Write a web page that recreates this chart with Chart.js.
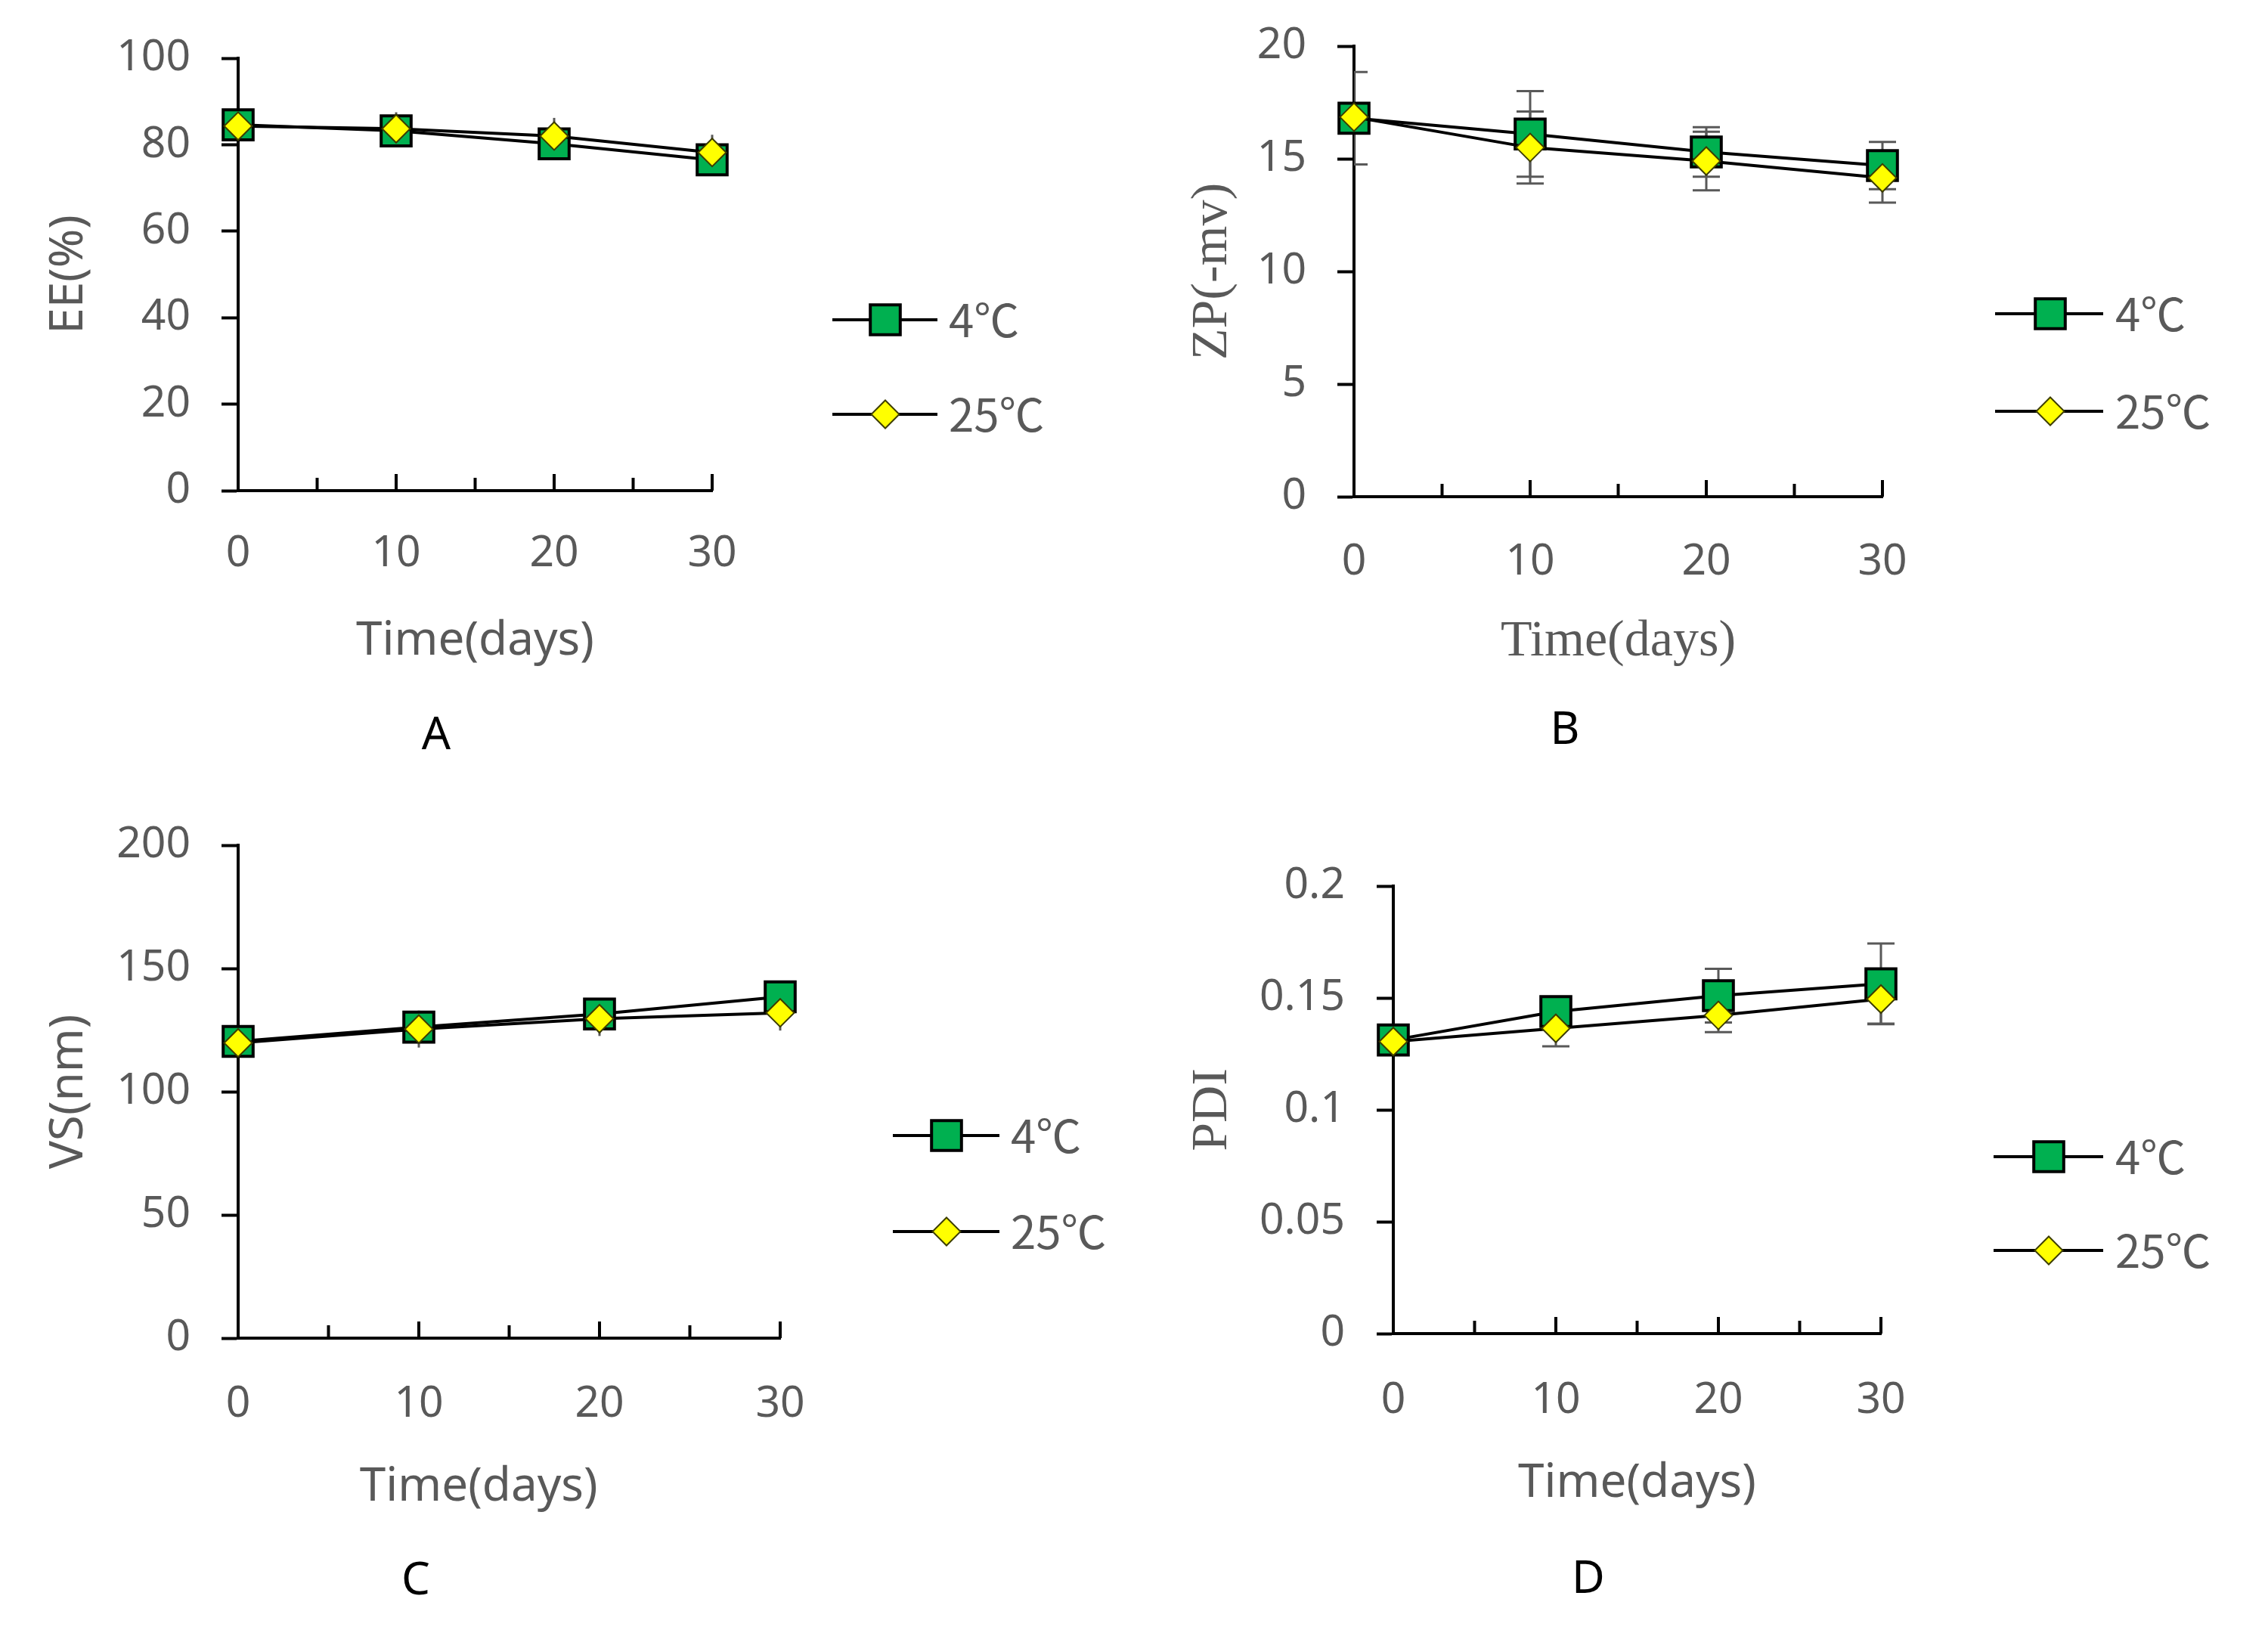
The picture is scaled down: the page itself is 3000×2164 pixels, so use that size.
<!DOCTYPE html>
<html>
<head>
<meta charset="utf-8">
<script src="https://cdn.jsdelivr.net/npm/chart.js@4.4.1/dist/chart.umd.min.js"></script>
<style>
html, body { margin: 0; padding: 0; background: #fff; }
body { width: 3000px; height: 2164px; position: relative; overflow: hidden; }
canvas { position: absolute; }
.tag { position: absolute; font: 60px "Noto Sans", sans-serif; color: #000; transform: translate(-50%, -50%); line-height: 1; }
</style>
</head>
<body>
<canvas id="chartA" width="1500" height="1080" style="left:0;top:0"></canvas>
<canvas id="chartB" width="1500" height="1100" style="left:1500px;top:-20px"></canvas>
<canvas id="chartC" width="1500" height="1124" style="left:0;top:1040px"></canvas>
<canvas id="chartD" width="1500" height="1084" style="left:1500px;top:1080px"></canvas>
<div class="tag" style="left:577px;top:968px">A</div>
<div class="tag" style="left:2070px;top:961px">B</div>
<div class="tag" style="left:550px;top:2086px">C</div>
<div class="tag" style="left:2101px;top:2084px">D</div>
<script>
// --- DATOS ---
const days = [0, 10, 20, 30];
const seriesNames = ['4℃', '25℃'];
const xLabelDays = [0, 10, 20, 30];

// A: eficiencia de encapsulación
const eeTicks = [0, 20, 40, 60, 80, 100];
const ee4 = [84.6, 83.2, 80.2, 76.5];
const ee25 = [84.3, 83.7, 82.0, 78.2];
const ee4Err = [1.5, 2.0, 2.0, 2.0];
const ee25Err = [1.5, 3.8, 4.2, 4.1];

// B: potencial zeta
const zpTicks = [0, 5, 10, 15, 20];
const zp4 = [16.8, 16.1, 15.3, 14.7];
const zp25 = [16.85, 15.5, 14.9, 14.15];
const zp4Err = [2.05, 1.9, 1.1, 1.05];
const zp25Err = [0.6, 1.6, 1.3, 1.1];

// C: tamaño de vesícula
const vsTicks = [0, 50, 100, 150, 200];
const vs4 = [120.4, 126.2, 131.5, 138.5];
const vs25 = [119.8, 125.4, 129.6, 132.0];
const vs4Err = [5, 5, 5, 5];
const vs25Err = [5, 7.5, 7.0, 7.2];

// D: PDI
const pdiTicks = [0, 0.05, 0.1, 0.15, 0.2];
const pdi4 = [0.1312, 0.1439, 0.151, 0.1563];
const pdi25 = [0.1305, 0.1364, 0.1422, 0.1495];
const pdi4Err = [0.004, 0.005, 0.012, 0.018];
const pdi25Err = [0.004, 0.008, 0.0075, 0.011];

const GREY = '#595959';
const SANS = "'Noto Sans', 'Noto Sans CJK SC', sans-serif";
const SERIF = "'Liberation Serif', 'DejaVu Serif', serif";
const LEGEND_FONT = "60px 'Noto Sans CJK SC', 'Noto Sans', sans-serif";

// --- PLUGINS ---
// barras de error (detrás de los marcadores)
const errorBarsPlugin = {
    id: 'errorBars',
    beforeDatasetsDraw(chart, args, opts) {
        const ctx = chart.ctx;
        const ca = chart.chartArea;
        const y = chart.scales.y;
        ctx.save();
        ctx.beginPath();
        ctx.rect(ca.left, 0, chart.width - ca.left, chart.height);
        ctx.clip();
        ctx.strokeStyle = GREY;
        ctx.lineWidth = 3;
        chart.data.datasets.forEach((ds, i) => {
            const meta = chart.getDatasetMeta(i);
            const errs = opts.errs[i];
            meta.data.forEach((pt, j) => {
                const v = ds.data[j].y;
                const yTop = y.getPixelForValue(v + errs[j]);
                const yBot = y.getPixelForValue(v - errs[j]);
                ctx.beginPath();
                ctx.moveTo(pt.x, yTop);
                ctx.lineTo(pt.x, yBot);
                if (opts.cap > 0) {
                    ctx.moveTo(pt.x - opts.cap, yTop);
                    ctx.lineTo(pt.x + opts.cap, yTop);
                    ctx.moveTo(pt.x - opts.cap, yBot);
                    ctx.lineTo(pt.x + opts.cap, yBot);
                }
                ctx.stroke();
            });
        });
        ctx.restore();
    }
};

// marcas del eje X hacia dentro
const innerTicksPlugin = {
    id: 'innerTicks',
    afterDraw(chart) {
        const ctx = chart.ctx;
        const x = chart.scales.x;
        const base = chart.chartArea.bottom;
        ctx.save();
        ctx.strokeStyle = '#000';
        ctx.lineWidth = 4;
        x.ticks.forEach(t => {
            if (t.value <= 0) return;
            const px = x.getPixelForValue(t.value);
            const len = t.value % 10 === 0 ? 22 : 17;
            ctx.beginPath();
            ctx.moveTo(px, base);
            ctx.lineTo(px, base - len);
            ctx.stroke();
        });
        ctx.restore();
    }
};

// leyenda lateral con línea + marcador
const sideLegendPlugin = {
    id: 'sideLegend',
    afterDraw(chart, args, o) {
        const ctx = chart.ctx;
        ctx.save();
        chart.data.datasets.forEach((ds, i) => {
            const y = o.ys[i];
            ctx.strokeStyle = '#000';
            ctx.lineWidth = 4;
            ctx.beginPath();
            ctx.moveTo(o.x0, y);
            ctx.lineTo(o.x1, y);
            ctx.stroke();
            ctx.fillStyle = ds.pointBackgroundColor;
            ctx.strokeStyle = ds.pointBorderColor;
            ctx.lineWidth = ds.pointBorderWidth;
            ctx.beginPath();
            if (ds.pointStyle === 'rect') {
                const h = ds.pointRadius * Math.SQRT1_2;
                ctx.rect(o.mx - h, y - h, 2 * h, 2 * h);
            } else {
                const r = ds.pointRadius;
                ctx.moveTo(o.mx, y - r);
                ctx.lineTo(o.mx + r, y);
                ctx.lineTo(o.mx, y + r);
                ctx.lineTo(o.mx - r, y);
                ctx.closePath();
            }
            ctx.fill();
            ctx.stroke();
            ctx.fillStyle = GREY;
            ctx.font = LEGEND_FONT;
            ctx.textBaseline = 'middle';
            ctx.textAlign = 'left';
            ctx.fillText(ds.label, o.tx, y);
        });
        ctx.restore();
    }
};

function toPoints(vals) {
    return days.map((d, i) => ({ x: d, y: vals[i] }));
}

function fmt(v) {
    return String(Number(v.toFixed(2)));
}

function makePanel(id, p) {
    const ctx = document.getElementById(id).getContext('2d');
    const W = ctx.canvas.width, H = ctx.canvas.height;
    const yStep = p.yTicks[1] - p.yTicks[0];
    return new Chart(ctx, {
        type: 'line',
        data: {
            datasets: [
                {
                    label: seriesNames[0],
                    data: toPoints(p.s4),
                    borderColor: '#000',
                    borderWidth: 4,
                    pointStyle: 'rect',
                    pointRadius: 28,
                    pointBackgroundColor: '#00B050',
                    pointBorderColor: '#000',
                    pointBorderWidth: 4,
                    order: 1,
                    clip: false
                },
                {
                    label: seriesNames[1],
                    data: toPoints(p.s25),
                    borderColor: '#000',
                    borderWidth: 4,
                    pointStyle: 'rectRot',
                    pointRadius: 18.5,
                    pointBackgroundColor: '#FFFF00',
                    pointBorderColor: '#3d3d00',
                    pointBorderWidth: 2,
                    order: 0,
                    clip: false
                }
            ]
        },
        options: {
            responsive: false,
            animation: false,
            devicePixelRatio: 1,
            events: [],
            layout: { padding: { left: 20, top: p.area.top, right: W - p.area.right, bottom: 20 } },
            plugins: {
                legend: { display: false },
                tooltip: { enabled: false },
                errorBars: { errs: [p.e4, p.e25], cap: p.cap },
                sideLegend: p.legend
            },
            scales: {
                x: {
                    type: 'linear',
                    min: 0, max: 30,
                    ticks: {
                        stepSize: 5, autoSkip: false, maxRotation: 0,
                        padding: p.xLabelPad, color: GREY,
                        font: { family: SANS, size: 57 },
                        callback: v => xLabelDays.includes(v) ? String(v) : ''
                    },
                    grid: { display: false, drawTicks: false },
                    border: { display: true, color: '#000', width: 4 },
                    title: {
                        display: true, text: p.xTitle, color: GREY,
                        font: p.xTitleFont,
                        padding: { top: 0, bottom: p.xTitlePad }
                    },
                    afterFit: s => { s.height = H - 20 - p.area.bottom; }
                },
                y: {
                    min: p.yTicks[0], max: p.yTicks[p.yTicks.length - 1],
                    ticks: {
                        stepSize: yStep, padding: p.yLabelPad, color: GREY,
                        font: { family: SANS, size: 57 },
                        callback: v => fmt(v)
                    },
                    grid: {
                        display: true, drawOnChartArea: false, drawTicks: true,
                        tickLength: 22, tickColor: '#000', tickWidth: 4
                    },
                    border: { display: true, color: '#000', width: 4 },
                    title: {
                        display: true, text: p.yTitle, color: GREY,
                        font: p.yTitleFont,
                        padding: { top: p.yTitlePad, bottom: 0 }
                    },
                    afterFit: s => { s.width = p.area.left - 20; }
                }
            }
        },
        plugins: [errorBarsPlugin, innerTicksPlugin, sideLegendPlugin]
    });
}

const sansTitle = { family: SANS, size: 62 };
const serifTitle = { family: SERIF, size: 68 };

makePanel('chartA', {
    s4: ee4, s25: ee25, e4: ee4Err, e25: ee25Err, cap: 0,
    yTicks: eeTicks,
    area: { left: 315, right: 942, top: 77, bottom: 649 },
    yLabelPad: 41, xLabelPad: 50,
    yTitle: 'EE(%)', yTitleFont: sansTitle, yTitlePad: 34,
    xTitle: 'Time(days)', xTitleFont: sansTitle, xTitlePad: 174,
    legend: { x0: 1101, x1: 1240, mx: 1171, ys: [423, 548], tx: 1255 }
});

// canvas B empieza en y=-20
makePanel('chartB', {
    s4: zp4, s25: zp25, e4: zp4Err, e25: zp25Err, cap: 18,
    yTicks: zpTicks,
    area: { left: 291, right: 990, top: 81, bottom: 677 },
    yLabelPad: 41, xLabelPad: 53,
    yTitle: 'ZP(-mv)', yTitleFont: serifTitle, yTitlePad: 43,
    xTitle: 'Time(days)', xTitleFont: serifTitle, xTitlePad: 170,
    legend: { x0: 1139, x1: 1282, mx: 1212, ys: [435, 564], tx: 1298 }
});

// canvas C empieza en y=1040
makePanel('chartC', {
    s4: vs4, s25: vs25, e4: vs4Err, e25: vs25Err, cap: 0,
    yTicks: vsTicks,
    area: { left: 315, right: 1032, top: 78, bottom: 730 },
    yLabelPad: 41, xLabelPad: 54,
    yTitle: 'VS(nm)', yTitleFont: sansTitle, yTitlePad: 34,
    xTitle: 'Time(days)     ', xTitleFont: sansTitle, xTitlePad: 139,
    legend: { x0: 1181, x1: 1322, mx: 1252, ys: [462, 589], tx: 1337 }
});

makePanel('chartD', {
    s4: pdi4, s25: pdi25, e4: pdi4Err, e25: pdi25Err, cap: 18,
    yTicks: pdiTicks,
    area: { left: 343, right: 988, top: 92, bottom: 684 },
    yLabelPad: 42, xLabelPad: 55,
    yTitle: 'PDI', yTitleFont: serifTitle, yTitlePad: 43,
    xTitle: 'Time(days)', xTitleFont: sansTitle, xTitlePad: 144,
    legend: { x0: 1137, x1: 1282, mx: 1210, ys: [450, 574], tx: 1298 }
});
</script>
</body>
</html>
